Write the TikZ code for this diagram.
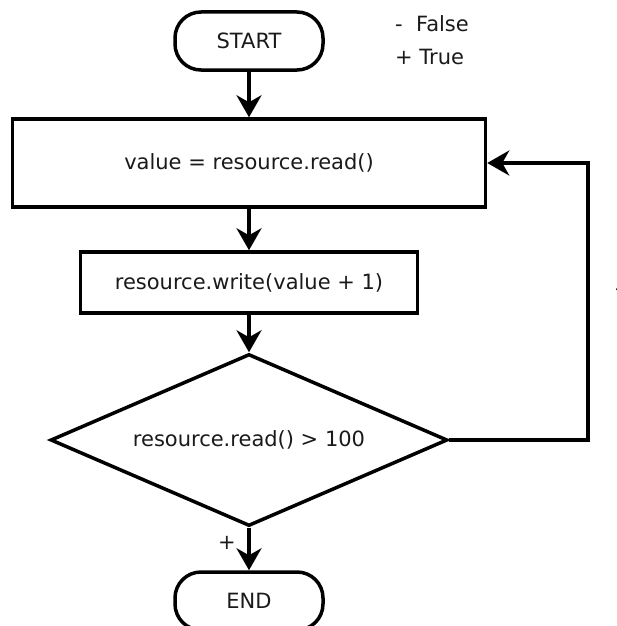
\documentclass[tikz,border=0pt]{standalone}
\usepackage{fontspec}
\setmainfont{DejaVu Sans}
\usetikzlibrary{shapes.geometric,arrows.meta}
\definecolor{ink}{HTML}{1A1A1A}
\tikzset{
  flowline/.style={line width=3.5pt, draw=black},
  arr/.style={flowline, -{Stealth[length=22pt,width=25pt,inset=7pt]}},
  procbox/.style={draw=black, line width=3.5pt, rectangle, inner sep=0pt, font=\fontsize{21}{25}\selectfont, text=ink},
  termbox/.style={draw=black, line width=3.5pt, rectangle, rounded corners=26pt, inner sep=0pt,
    minimum width=148pt, minimum height=58pt, font=\fontsize{21}{25}\selectfont, text=ink},
  decbox/.style={draw=black, line width=3.5pt, diamond, shape aspect=2.3, inner sep=0pt,
    font=\fontsize{21}{25}\selectfont, text=ink},
  plain/.style={inner sep=0pt, font=\fontsize{21}{25}\selectfont, text=ink},
}
\begin{document}
\begin{tikzpicture}[x=1pt, y=-1pt]
  \useasboundingbox (0,0) rectangle (616,626);

  % flow nodes, all centred on one vertical axis
  \node[termbox] (start) at (249,41) {START};
  \node[procbox, minimum width=473pt, minimum height=88pt] (read) at (249,163) {value = resource.read()};
  \node[procbox, minimum width=337pt, minimum height=61pt] (write) at (249,282.5) {resource.write(value + 1)};
  \node[decbox, minimum width=397pt, minimum height=172pt] (test) at (249,440) {resource.read() > 100};
  \node[termbox] (end) at (249,601) {END};

  % legend
  \node[plain, anchor=west] (legF) at (395,24) {-\ \ False};
  \node[plain, anchor=west] (legT) at (395,57) {+ True};

  % connectors
  \coordinate (turn) at (588,163);
  \draw[arr] (start.south) -- (read.north);
  \draw[arr] (read.south) -- (write.north);
  \draw[arr] (write.south) -- (test.north);
  \draw[arr] (test.south) -- (end.north);
  \draw[arr] (test.east) -| (turn) -- (read.east);

  % branch marks
  \node[plain] (plus) at (227,543) {+};
  \node[plain] (minus) at (619,292) {-};
\end{tikzpicture}
\end{document}
